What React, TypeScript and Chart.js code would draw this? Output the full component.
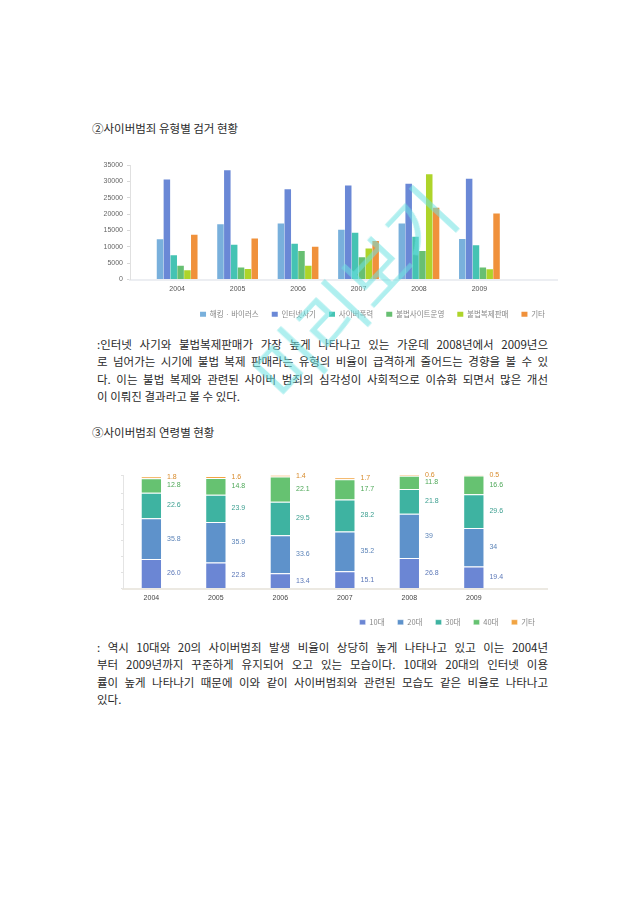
import React, { useEffect, useRef } from "react";
import { Chart, registerables } from "chart.js";

Chart.register(...registerables);

// ---------- Chart 1 data: 사이버범죄 유형별 검거 현황 ----------
const years = ["2004", "2005", "2006", "2007", "2008", "2009"];
const typeLabels = ["해킹 · 바이러스", "인터넷사기", "사이버폭력", "불법사이트운영", "불법복제판매", "기타"];
const hacking = [12300, 16900, 17100, 15200, 17100, 12400];
const fraud = [30600, 33400, 27600, 28700, 29300, 30800];
const violence = [7400, 10600, 10900, 14300, 13100, 10500];
const illegalSite = [4200, 3700, 8700, 6800, 8700, 3700];
const piracy = [2800, 3200, 4200, 9500, 32200, 3100];
const others = [13700, 12500, 10000, 11800, 21900, 20200];
const typeColors = ["#79b0dc", "#6a88d6", "#45c3b3", "#67bf72", "#aed42a", "#f0913b"];

// ---------- Chart 2 data: 사이버범죄 연령별 현황 (%) ----------
const ageLabels = ["10대", "20대", "30대", "40대", "기타"];
const teens = ["26.0", "22.8", "13.4", "15.1", "26.8", "19.4"];
const twenties = ["35.8", "35.9", "33.6", "35.2", "39", "34"];
const thirties = ["22.6", "23.9", "29.5", "28.2", "21.8", "29.6"];
const forties = ["12.8", "14.8", "22.1", "17.7", "11.8", "16.6"];
const ageOthers = ["1.8", "1.6", "1.4", "1.7", "0.6", "0.5"];
const ageColors = ["#6b86d4", "#5e92cb", "#3eb3a1", "#66c271", "#f1a443"];
const ageTextColors = ["#5c78b8", "#5c84b8", "#3a9e8f", "#4ea858", "#d88a2a"];

const TICK_FONT = { family: "'Liberation Sans', 'Noto Sans CJK KR', sans-serif", size: 7 };
const LEGEND_FONT = { family: "'Noto Sans CJK KR', sans-serif", size: 7.5 };

function toPoints(arr: (number | string)[]) {
  return arr.map((v, i) => ({ x: i, y: typeof v === "string" ? parseFloat(v) : v }));
}

function TypeChart() {
  const ref = useRef<HTMLCanvasElement>(null);
  useEffect(() => {
    const series = [hacking, fraud, violence, illegalSite, piracy, others];
    const chart = new Chart(ref.current!, {
      type: "bar",
      data: {
        datasets: series.map((s, i) => ({
          label: typeLabels[i],
          data: toPoints(s),
          backgroundColor: typeColors[i],
          borderWidth: 0,
          barPercentage: 0.95,
          categoryPercentage: 0.68,
        })),
      },
      options: {
        animation: false,
        responsive: false,
        maintainAspectRatio: false,
        layout: { padding: { top: 13, right: 0, left: 0, bottom: 0 } },
        plugins: {
          tooltip: { enabled: false },
          legend: {
            position: "bottom",
            align: "end",
            labels: {
              boxWidth: 6,
              boxHeight: 5,
              padding: 13,
              color: "#888",
              font: LEGEND_FONT,
            },
          },
        },
        scales: {
          x: {
            type: "linear",
            offset: false,
            min: -0.78,
            max: 6.3,
            afterBuildTicks: (s: any) => {
              s.ticks = years.map((_, i) => ({ value: i }));
            },
            afterFit: (s: any) => {
              s.height = 18;
            },
            ticks: {
              callback: (v: any) => years[v] ?? "",
              color: "#555",
              font: TICK_FONT,
              maxRotation: 0,
              padding: 5,
            },
            grid: { display: false, drawTicks: false, tickLength: 0 },
            border: { display: true, color: "#eceef2", width: 2 },
          },
          y: {
            min: 0,
            max: 35000,
            afterFit: (s: any) => {
              s.width = 42;
            },
            ticks: {
              stepSize: 5000,
              color: "#666",
              font: TICK_FONT,
              padding: 4,
              callback: (v: any) => String(v),
            },
            grid: { drawOnChartArea: false, tickLength: 3, color: "#d8d8d8" },
            border: { display: true, color: "#e0e0e0" },
          },
        },
      },
    });
    return () => chart.destroy();
  }, []);
  return (
    <canvas
      ref={ref}
      width={470}
      height={176}
      style={{ position: "absolute", left: 88, top: 152, width: 470, height: 176 }}
    />
  );
}

const valueLabelPlugin = {
  id: "valueLabels",
  afterDatasetsDraw(chart: any) {
    const ctx = chart.ctx;
    ctx.save();
    ctx.font = "7px 'Liberation Sans', sans-serif";
    ctx.textBaseline = "middle";
    ctx.textAlign = "left";
    chart.data.datasets.forEach((ds: any, di: number) => {
      const meta = chart.getDatasetMeta(di);
      ctx.fillStyle = ageTextColors[di];
      meta.data.forEach((el: any, i: number) => {
        const props = el.getProps(["x", "y", "base", "width"], true);
        const y = (props.y + props.base) / 2;
        ctx.fillText(ds.rawLabels[i], props.x + props.width / 2 + 5, y);
      });
    });
    ctx.restore();
  },
};

function AgeChart() {
  const ref = useRef<HTMLCanvasElement>(null);
  useEffect(() => {
    const series = [teens, twenties, thirties, forties, ageOthers];
    const chart = new Chart(ref.current!, {
      type: "bar",
      data: {
        datasets: series.map((s, i) => ({
          label: ageLabels[i],
          data: toPoints(s),
          rawLabels: s,
          backgroundColor: ageColors[i],
          borderColor: "rgba(255,255,255,0.35)",
          borderWidth: 1,
          barPercentage: 1,
          categoryPercentage: 0.33,
        })) as any,
      },
      options: {
        animation: false,
        responsive: false,
        maintainAspectRatio: false,
        layout: { padding: { top: 9, right: 0, left: 0, bottom: 0 } },
        plugins: {
          tooltip: { enabled: false },
          legend: {
            position: "bottom",
            align: "end",
            labels: {
              boxWidth: 6,
              boxHeight: 5,
              padding: 13,
              color: "#888",
              font: LEGEND_FONT,
            },
          },
        },
        scales: {
          x: {
            type: "linear",
            offset: false,
            stacked: true,
            min: -0.44,
            max: 6.15,
            afterBuildTicks: (s: any) => {
              s.ticks = years.map((_, i) => ({ value: i }));
            },
            afterFit: (s: any) => {
              s.height = 17;
            },
            ticks: {
              callback: (v: any) => years[v] ?? "",
              color: "#444",
              font: TICK_FONT,
              maxRotation: 0,
              padding: 5,
            },
            grid: { display: false, drawTicks: false, tickLength: 0 },
            border: { display: true, color: "#ece9e2", width: 2 },
          },
          y: {
            stacked: true,
            min: 0,
            max: 100,
            afterFit: (s: any) => {
              s.width = 15;
            },
            ticks: { display: false, stepSize: 14 },
            grid: { drawOnChartArea: false, tickLength: 2, color: "#e2e2e2" },
            border: { display: true, color: "#e4e4e4" },
          },
        },
      },
      plugins: [valueLabelPlugin],
    });
    return () => chart.destroy();
  }, []);
  return (
    <canvas
      ref={ref}
      width={440}
      height={170}
      style={{ position: "absolute", left: 108, top: 466, width: 440, height: 170 }}
    />
  );
}

const para1 = [
  ":인터넷 사기와 불법복제판매가 가장 높게 나타나고 있는 가운데 2008년에서 2009년으",
  "로 넘어가는 시기에 불법 복제 판매라는 유형의 비율이 급격하게 줄어드는 경향을 볼 수 있",
  "다. 이는 불법 복제와 관련된 사이버 범죄의 심각성이 사회적으로 이슈화 되면서 많은 개선",
  "이 이뤄진 결과라고 볼 수 있다.",
];
const para2 = [
  ": 역시 10대와 20의 사이버범죄 발생 비율이 상당히 높게 나타나고 있고 이는 2004년",
  "부터 2009년까지 꾸준하게 유지되어 오고 있는 모습이다. 10대와 20대의 인터넷 이용",
  "률이 높게 나타나기 때문에 이와 같이 사이버범죄와 관련된 모습도 같은 비율로 나타나고",
  "있다.",
];

const textFont = "'Noto Sans CJK KR', sans-serif";

function Paragraph({ lines, top }: { lines: string[]; top: number }) {
  return (
    <div style={{ position: "absolute", left: 97, top, width: 451 }}>
      {lines.map((l, i) => (
        <div
          key={i}
          style={{
            height: 17.4,
            lineHeight: "17.4px",
            fontSize: 11.5,
            fontFamily: textFont,
            color: "#2a2a2a",
            whiteSpace: "nowrap",
            textAlign: i < lines.length - 1 ? "justify" : "left",
            textAlignLast: i < lines.length - 1 ? "justify" : "left",
          } as any}
        >
          {l}
        </div>
      ))}
    </div>
  );
}

function Title({ text, top }: { text: string; top: number }) {
  return (
    <div
      style={{
        position: "absolute",
        left: 92,
        top,
        fontSize: 11.5,
        lineHeight: "16px",
        fontFamily: textFont,
        color: "#2a2a2a",
        whiteSpace: "nowrap",
      }}
    >
      {text}
    </div>
  );
}

export default function App() {
  return (
    <div
      style={{
        position: "absolute",
        left: 0,
        top: 0,
        width: 640,
        height: 905,
        background: "#fff",
        overflow: "hidden",
      }}
    >
      <Title text="②사이버범죄 유형별 검거 현황" top={120} />
      <TypeChart />
      <Paragraph lines={para1} top={336} />
      <Title text="③사이버범죄 연령별 현황" top={424} />
      <AgeChart />
      <Paragraph lines={para2} top={639} />
      <div
        style={{
          position: "absolute",
          left: 352 - 180,
          top: 292 - 50,
          width: 360,
          height: 100,
          lineHeight: "100px",
          textAlign: "center",
          fontSize: 70,
          fontFamily: textFont,
          fontWeight: 400,
          color: "rgba(110, 225, 225, 0.55)",
          transform: "rotate(-47deg)",
          pointerEvents: "none",
          whiteSpace: "nowrap",
        }}
      >
        미리보기
      </div>
    </div>
  );
}
